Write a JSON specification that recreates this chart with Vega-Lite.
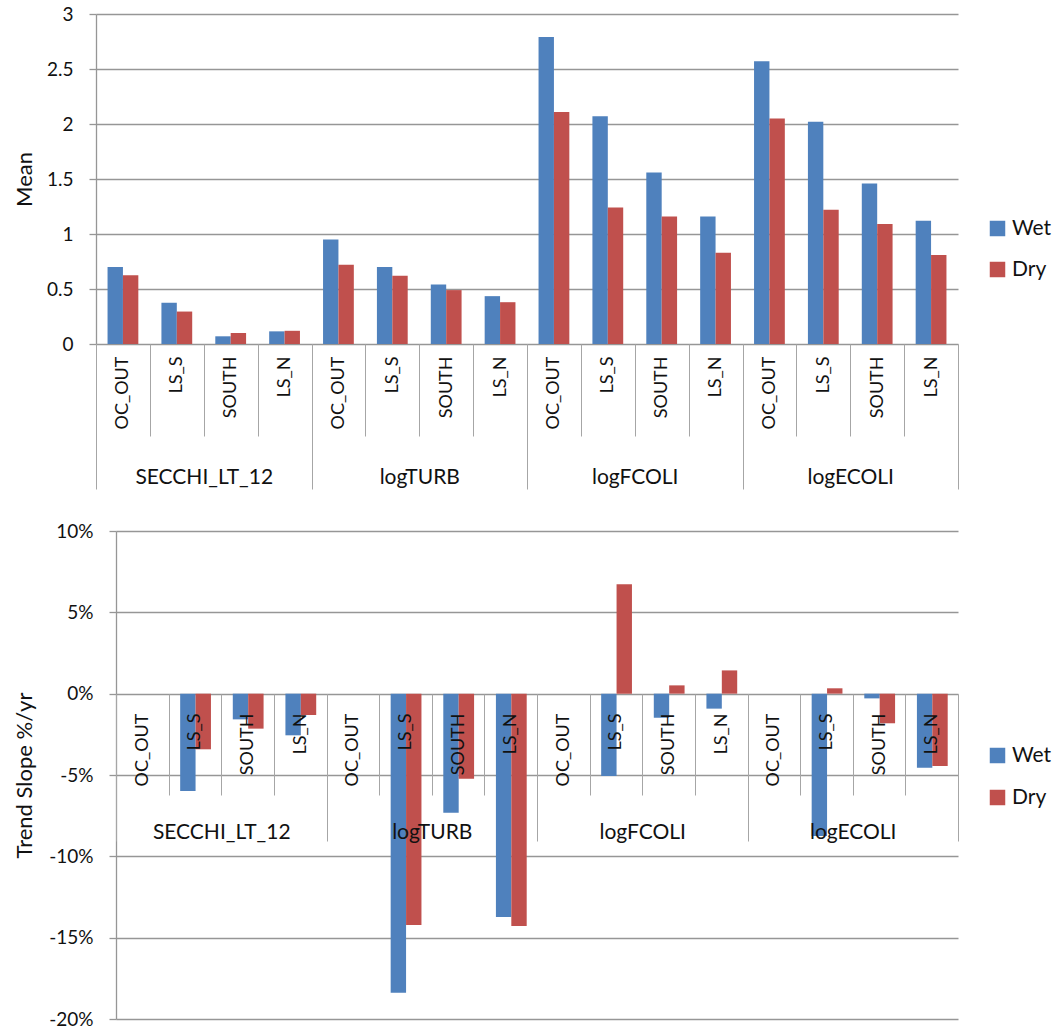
{
  "$schema": "https://vega.github.io/schema/vega-lite/v6.json",
  "background": "white",
  "padding": {"left": 13, "top": 5, "right": 0, "bottom": 0},
  "config": {
    "font": "Lato",
    "view": {"stroke": null},
    "axis": {"labelColor": "#111", "titleColor": "#111"},
    "legend": {"labelColor": "#111"}
  },
  "datasets": {
    "means": [
      {"group": "SECCHI_LT_12", "site": "OC_OUT", "key": "SECCHI_LT_12|OC_OUT", "season": "Wet", "value": 0.70},
      {"group": "SECCHI_LT_12", "site": "OC_OUT", "key": "SECCHI_LT_12|OC_OUT", "season": "Dry", "value": 0.625},
      {"group": "SECCHI_LT_12", "site": "LS_S", "key": "SECCHI_LT_12|LS_S", "season": "Wet", "value": 0.375},
      {"group": "SECCHI_LT_12", "site": "LS_S", "key": "SECCHI_LT_12|LS_S", "season": "Dry", "value": 0.295},
      {"group": "SECCHI_LT_12", "site": "SOUTH", "key": "SECCHI_LT_12|SOUTH", "season": "Wet", "value": 0.07},
      {"group": "SECCHI_LT_12", "site": "SOUTH", "key": "SECCHI_LT_12|SOUTH", "season": "Dry", "value": 0.10},
      {"group": "SECCHI_LT_12", "site": "LS_N", "key": "SECCHI_LT_12|LS_N", "season": "Wet", "value": 0.115},
      {"group": "SECCHI_LT_12", "site": "LS_N", "key": "SECCHI_LT_12|LS_N", "season": "Dry", "value": 0.12},
      {"group": "logTURB", "site": "OC_OUT", "key": "logTURB|OC_OUT", "season": "Wet", "value": 0.95},
      {"group": "logTURB", "site": "OC_OUT", "key": "logTURB|OC_OUT", "season": "Dry", "value": 0.72},
      {"group": "logTURB", "site": "LS_S", "key": "logTURB|LS_S", "season": "Wet", "value": 0.70},
      {"group": "logTURB", "site": "LS_S", "key": "logTURB|LS_S", "season": "Dry", "value": 0.62},
      {"group": "logTURB", "site": "SOUTH", "key": "logTURB|SOUTH", "season": "Wet", "value": 0.54},
      {"group": "logTURB", "site": "SOUTH", "key": "logTURB|SOUTH", "season": "Dry", "value": 0.49},
      {"group": "logTURB", "site": "LS_N", "key": "logTURB|LS_N", "season": "Wet", "value": 0.435},
      {"group": "logTURB", "site": "LS_N", "key": "logTURB|LS_N", "season": "Dry", "value": 0.38},
      {"group": "logFCOLI", "site": "OC_OUT", "key": "logFCOLI|OC_OUT", "season": "Wet", "value": 2.79},
      {"group": "logFCOLI", "site": "OC_OUT", "key": "logFCOLI|OC_OUT", "season": "Dry", "value": 2.11},
      {"group": "logFCOLI", "site": "LS_S", "key": "logFCOLI|LS_S", "season": "Wet", "value": 2.07},
      {"group": "logFCOLI", "site": "LS_S", "key": "logFCOLI|LS_S", "season": "Dry", "value": 1.24},
      {"group": "logFCOLI", "site": "SOUTH", "key": "logFCOLI|SOUTH", "season": "Wet", "value": 1.56},
      {"group": "logFCOLI", "site": "SOUTH", "key": "logFCOLI|SOUTH", "season": "Dry", "value": 1.16},
      {"group": "logFCOLI", "site": "LS_N", "key": "logFCOLI|LS_N", "season": "Wet", "value": 1.16},
      {"group": "logFCOLI", "site": "LS_N", "key": "logFCOLI|LS_N", "season": "Dry", "value": 0.83},
      {"group": "logECOLI", "site": "OC_OUT", "key": "logECOLI|OC_OUT", "season": "Wet", "value": 2.57},
      {"group": "logECOLI", "site": "OC_OUT", "key": "logECOLI|OC_OUT", "season": "Dry", "value": 2.05},
      {"group": "logECOLI", "site": "LS_S", "key": "logECOLI|LS_S", "season": "Wet", "value": 2.02},
      {"group": "logECOLI", "site": "LS_S", "key": "logECOLI|LS_S", "season": "Dry", "value": 1.22},
      {"group": "logECOLI", "site": "SOUTH", "key": "logECOLI|SOUTH", "season": "Wet", "value": 1.46},
      {"group": "logECOLI", "site": "SOUTH", "key": "logECOLI|SOUTH", "season": "Dry", "value": 1.09},
      {"group": "logECOLI", "site": "LS_N", "key": "logECOLI|LS_N", "season": "Wet", "value": 1.12},
      {"group": "logECOLI", "site": "LS_N", "key": "logECOLI|LS_N", "season": "Dry", "value": 0.81}
    ],
    "trends": [
      {"group": "SECCHI_LT_12", "site": "OC_OUT", "key": "SECCHI_LT_12|OC_OUT", "season": "Wet", "value": 0},
      {"group": "SECCHI_LT_12", "site": "OC_OUT", "key": "SECCHI_LT_12|OC_OUT", "season": "Dry", "value": 0},
      {"group": "SECCHI_LT_12", "site": "LS_S", "key": "SECCHI_LT_12|LS_S", "season": "Wet", "value": -5.98},
      {"group": "SECCHI_LT_12", "site": "LS_S", "key": "SECCHI_LT_12|LS_S", "season": "Dry", "value": -3.42},
      {"group": "SECCHI_LT_12", "site": "SOUTH", "key": "SECCHI_LT_12|SOUTH", "season": "Wet", "value": -1.58},
      {"group": "SECCHI_LT_12", "site": "SOUTH", "key": "SECCHI_LT_12|SOUTH", "season": "Dry", "value": -2.15},
      {"group": "SECCHI_LT_12", "site": "LS_N", "key": "SECCHI_LT_12|LS_N", "season": "Wet", "value": -2.56},
      {"group": "SECCHI_LT_12", "site": "LS_N", "key": "SECCHI_LT_12|LS_N", "season": "Dry", "value": -1.31},
      {"group": "logTURB", "site": "OC_OUT", "key": "logTURB|OC_OUT", "season": "Wet", "value": 0},
      {"group": "logTURB", "site": "OC_OUT", "key": "logTURB|OC_OUT", "season": "Dry", "value": 0},
      {"group": "logTURB", "site": "LS_S", "key": "logTURB|LS_S", "season": "Wet", "value": -18.38},
      {"group": "logTURB", "site": "LS_S", "key": "logTURB|LS_S", "season": "Dry", "value": -14.22},
      {"group": "logTURB", "site": "SOUTH", "key": "logTURB|SOUTH", "season": "Wet", "value": -7.32},
      {"group": "logTURB", "site": "SOUTH", "key": "logTURB|SOUTH", "season": "Dry", "value": -5.23},
      {"group": "logTURB", "site": "LS_N", "key": "logTURB|LS_N", "season": "Wet", "value": -13.73},
      {"group": "logTURB", "site": "LS_N", "key": "logTURB|LS_N", "season": "Dry", "value": -14.28},
      {"group": "logFCOLI", "site": "OC_OUT", "key": "logFCOLI|OC_OUT", "season": "Wet", "value": 0},
      {"group": "logFCOLI", "site": "OC_OUT", "key": "logFCOLI|OC_OUT", "season": "Dry", "value": 0},
      {"group": "logFCOLI", "site": "LS_S", "key": "logFCOLI|LS_S", "season": "Wet", "value": -5.06},
      {"group": "logFCOLI", "site": "LS_S", "key": "logFCOLI|LS_S", "season": "Dry", "value": 6.72},
      {"group": "logFCOLI", "site": "SOUTH", "key": "logFCOLI|SOUTH", "season": "Wet", "value": -1.48},
      {"group": "logFCOLI", "site": "SOUTH", "key": "logFCOLI|SOUTH", "season": "Dry", "value": 0.51},
      {"group": "logFCOLI", "site": "LS_N", "key": "logFCOLI|LS_N", "season": "Wet", "value": -0.92},
      {"group": "logFCOLI", "site": "LS_N", "key": "logFCOLI|LS_N", "season": "Dry", "value": 1.43},
      {"group": "logECOLI", "site": "OC_OUT", "key": "logECOLI|OC_OUT", "season": "Wet", "value": 0},
      {"group": "logECOLI", "site": "OC_OUT", "key": "logECOLI|OC_OUT", "season": "Dry", "value": 0},
      {"group": "logECOLI", "site": "LS_S", "key": "logECOLI|LS_S", "season": "Wet", "value": -8.75},
      {"group": "logECOLI", "site": "LS_S", "key": "logECOLI|LS_S", "season": "Dry", "value": 0.33},
      {"group": "logECOLI", "site": "SOUTH", "key": "logECOLI|SOUTH", "season": "Wet", "value": -0.29},
      {"group": "logECOLI", "site": "SOUTH", "key": "logECOLI|SOUTH", "season": "Dry", "value": -1.82},
      {"group": "logECOLI", "site": "LS_N", "key": "logECOLI|LS_N", "season": "Wet", "value": -4.55},
      {"group": "logECOLI", "site": "LS_N", "key": "logECOLI|LS_N", "season": "Dry", "value": -4.45}
    ]
  },
  "spacing": 32,
  "resolve": {"scale": {"color": "independent"}, "legend": {"color": "independent"}},
  "vconcat": [
    {
      "width": 862,
      "height": 330,
      "data": {"name": "means"},
      "layer": [
        {
          "mark": {"type": "bar"},
          "encoding": {
            "x": {
              "field": "key", "type": "nominal", "sort": null,
              "scale": {"paddingInner": 0, "paddingOuter": 0},
              "axis": {
                "orient": "bottom", "title": null, "domain": false, "grid": false,
                "tickBand": "extent", "tickSize": 92, "tickColor": "#a6a6a6", "tickWidth": 1,
                "labelAngle": -90, "labelAlign": "right", "labelBaseline": "middle",
                "labelPadding": -80, "labelFontSize": 18, "labelOverlap": false,
                "labelExpr": "split(datum.label, '|')[1]", "zindex": 1
              }
            },
            "xOffset": {
              "field": "season", "type": "nominal", "sort": ["Wet", "Dry"],
              "scale": {"paddingInner": 0, "paddingOuter": 0.75}
            },
            "y": {
              "field": "value", "type": "quantitative",
              "scale": {"domain": [0, 3], "nice": false, "zero": true},
              "axis": {
                "title": "Mean", "titleFontSize": 22, "titleFontWeight": "normal", "titlePadding": 10,
                "minExtent": 50, "maxExtent": 50,
                "values": [0, 0.5, 1, 1.5, 2, 2.5, 3], "format": "~g",
                "labelFontSize": 19, "labelPadding": 16, "tickSize": 7,
                "tickColor": "#969696", "domainColor": "#969696", "gridColor": "#969696",
                "gridWidth": 1.3, "domainWidth": 1.3, "tickWidth": 1.3, "zindex": 0
              }
            },
            "color": {
              "field": "season", "type": "nominal", "sort": ["Wet", "Dry"],
              "scale": {"domain": ["Wet", "Dry"], "range": ["#4F81BD", "#C0504D"]},
              "legend": {
                "orient": "none", "legendX": 891, "legendY": 204, "title": null,
                "symbolType": "square", "symbolSize": 240, "symbolStrokeWidth": 0,
                "labelFontSize": 21, "rowPadding": 19, "labelOffset": 4
              }
            }
          }
        },
        {
          "mark": {"type": "bar", "opacity": 0},
          "encoding": {
            "x": {
              "field": "group", "type": "nominal", "sort": null,
              "scale": {"paddingInner": 0, "paddingOuter": 0},
              "axis": {
                "orient": "bottom", "title": null, "domain": false, "grid": false,
                "tickBand": "extent", "tickSize": 145, "tickColor": "#a6a6a6", "tickWidth": 1,
                "labelAngle": 0, "labelAlign": "center", "labelBaseline": "top",
                "labelPadding": -23, "labelFontSize": 21, "zindex": 1
              }
            }
          }
        }
      ],
      "resolve": {"scale": {"x": "independent"}, "axis": {"x": "independent"}}
    },
    {
      "width": 862,
      "height": 488,
      "data": {"name": "trends"},
      "layer": [
        {
          "mark": {"type": "bar"},
          "encoding": {
            "x": {
              "field": "key", "type": "nominal", "sort": null,
              "scale": {"paddingInner": 0, "paddingOuter": 0, "range": [20, 862]},
              "axis": {
                "orient": "bottom", "offset": -325, "title": null, "domain": false, "grid": false,
                "tickBand": "extent", "tickSize": 101, "tickColor": "#a6a6a6", "tickWidth": 1,
                "labelAngle": -90, "labelAlign": "right", "labelBaseline": "middle",
                "labelPadding": -82, "labelFontSize": 18, "labelOverlap": false,
                "labelExpr": "split(datum.label, '|')[1]", "zindex": 1
              }
            },
            "xOffset": {
              "field": "season", "type": "nominal", "sort": ["Wet", "Dry"],
              "scale": {"paddingInner": 0, "paddingOuter": 0.75}
            },
            "y": {
              "field": "value", "type": "quantitative",
              "scale": {"domain": [-20, 10], "nice": false},
              "axis": {
                "title": "Trend Slope %/yr", "titleFontSize": 22, "titleFontWeight": "normal", "titlePadding": 10,
                "minExtent": 70, "maxExtent": 70, "offset": -20,
                "values": [-20, -15, -10, -5, 0, 5, 10],
                "labelExpr": "datum.value + '%'",
                "labelFontSize": 19, "labelPadding": 16, "tickSize": 7,
                "tickColor": "#969696", "domainColor": "#969696", "gridColor": "#969696",
                "gridWidth": 1.3, "domainWidth": 1.3, "tickWidth": 1.3, "zindex": 0
              }
            },
            "color": {
              "field": "season", "type": "nominal", "sort": ["Wet", "Dry"],
              "scale": {"domain": ["Wet", "Dry"], "range": ["#4F81BD", "#C0504D"]},
              "legend": {
                "orient": "none", "legendX": 891, "legendY": 214, "title": null,
                "symbolType": "square", "symbolSize": 240, "symbolStrokeWidth": 0,
                "labelFontSize": 21, "rowPadding": 20, "labelOffset": 4
              }
            }
          }
        },
        {
          "mark": {"type": "bar", "opacity": 0},
          "encoding": {
            "x": {
              "field": "group", "type": "nominal", "sort": null,
              "scale": {"paddingInner": 0, "paddingOuter": 0, "range": [20, 862]},
              "axis": {
                "orient": "bottom", "offset": -325, "title": null, "domain": false, "grid": false,
                "tickBand": "extent", "tickSize": 147, "tickColor": "#a6a6a6", "tickWidth": 1,
                "labelAngle": 0, "labelAlign": "center", "labelBaseline": "top",
                "labelPadding": -20, "labelFontSize": 21, "zindex": 1
              }
            }
          }
        }
      ],
      "resolve": {"scale": {"x": "independent"}, "axis": {"x": "independent"}}
    }
  ]
}
